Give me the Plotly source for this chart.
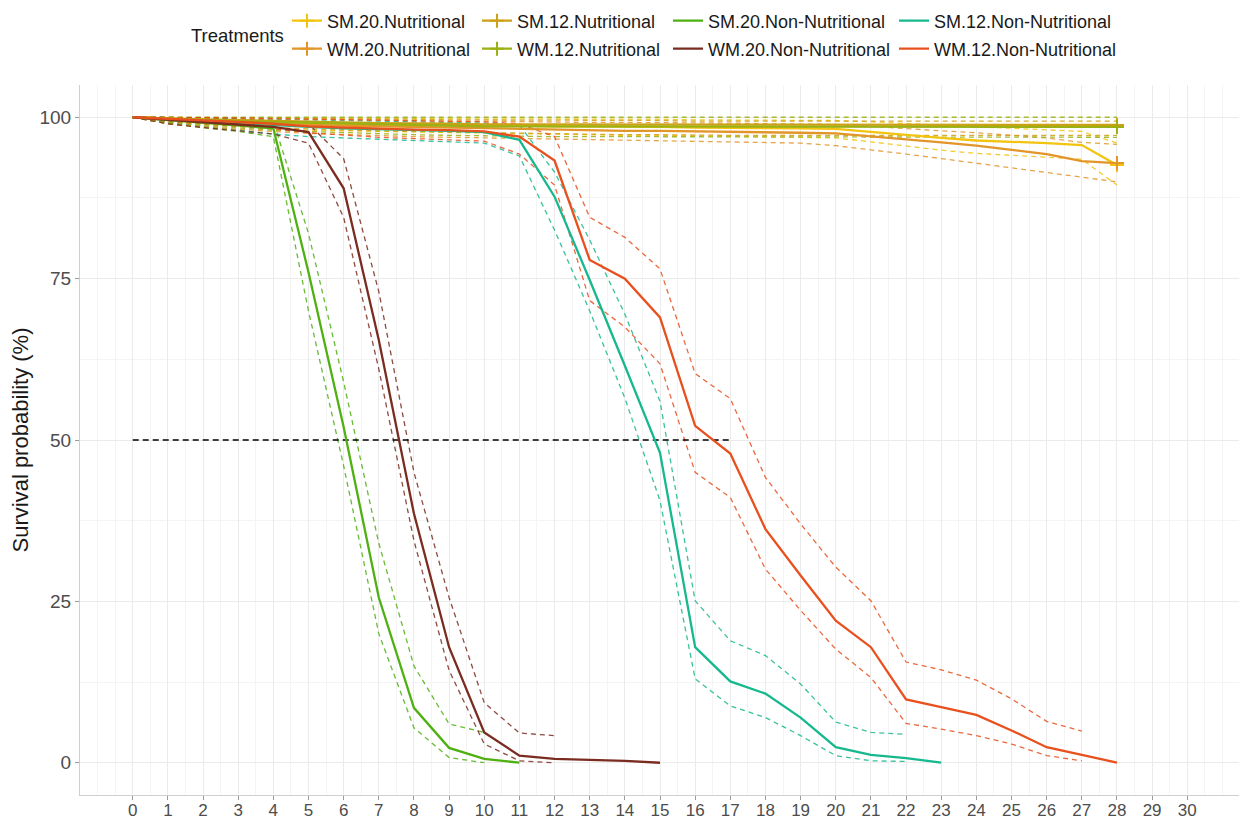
import plotly.graph_objects as go

# ---------------- data ----------------
NAMES = ["SM.20.Nutritional", "SM.12.Nutritional", "SM.20.Non-Nutritional", "SM.12.Non-Nutritional",
         "WM.20.Nutritional", "WM.12.Nutritional", "WM.20.Non-Nutritional", "WM.12.Non-Nutritional"]

DAYS_28 = list(range(0, 29))

SM20N = [100, 99.8, 99.6, 99.4, 99.2, 99.1, 99.0, 98.9, 98.8, 98.8, 98.7, 98.7, 98.6, 98.6, 98.5,
         98.5, 98.4, 98.4, 98.3, 98.3, 98.2, 97.8, 97.3, 96.8, 96.4, 96.2, 96.0, 95.7, 92.6]
SM20N_UP = [100, 100, 100, 100, 99.9, 99.9, 99.9, 99.8, 99.8, 99.8, 99.8, 99.8, 99.7, 99.7, 99.7,
            99.7, 99.6, 99.6, 99.6, 99.6, 99.5, 99.3, 99.0, 98.7, 98.5, 98.3, 98.1, 97.8, 96.0]
SM20N_LO = [100, 99.3, 98.9, 98.5, 98.2, 98.0, 97.9, 97.8, 97.7, 97.6, 97.5, 97.4, 97.3, 97.3, 97.2,
            97.2, 97.1, 97.0, 97.0, 96.9, 96.8, 96.2, 95.5, 94.9, 94.4, 94.1, 93.8, 93.5, 89.5]

SM12N = [100, 99.8, 99.6, 99.5, 99.4, 99.3, 99.2, 99.1, 99.0, 99.0, 98.9, 98.9, 98.8, 98.8, 98.8,
         98.8, 98.8, 98.8, 98.8, 98.8, 98.8, 98.8, 98.8, 98.8, 98.8, 98.8, 98.8, 98.8, 98.8]
SM12N_UP = [100, 100, 100, 99.9, 99.9, 99.8, 99.8, 99.7, 99.7, 99.6, 99.6, 99.5, 99.5, 99.5, 99.5,
            99.5, 99.4, 99.4, 99.4, 99.4, 99.4, 99.4, 99.4, 99.4, 99.4, 99.4, 99.4, 99.4, 99.4]
SM12N_LO = [100, 99.3, 98.9, 98.6, 98.4, 98.2, 98.0, 97.9, 97.8, 97.7, 97.6, 97.5, 97.4, 97.3, 97.3,
            97.3, 97.2, 97.2, 97.2, 97.2, 97.2, 97.2, 97.2, 97.2, 97.2, 97.2, 97.2, 97.2, 97.2]

WM20N = [100, 99.7, 99.4, 99.2, 99.0, 98.8, 98.6, 98.5, 98.4, 98.3, 98.2, 98.1, 98.0, 98.0, 97.9,
         97.9, 97.8, 97.8, 97.7, 97.6, 97.5, 97.1, 96.6, 96.1, 95.6, 95.0, 94.3, 93.2, 92.9]
WM20N_UP = [100, 100, 100, 99.9, 99.8, 99.7, 99.6, 99.5, 99.5, 99.4, 99.4, 99.3, 99.3, 99.2, 99.2,
            99.2, 99.1, 99.1, 99.0, 99.0, 98.9, 98.6, 98.2, 97.9, 97.6, 97.2, 96.8, 96.1, 95.8]
WM20N_LO = [100, 99.0, 98.5, 98.1, 97.8, 97.5, 97.3, 97.1, 97.0, 96.9, 96.8, 96.7, 96.6, 96.5, 96.5,
            96.4, 96.3, 96.2, 96.1, 96.0, 95.6, 95.0, 94.3, 93.6, 92.9, 92.2, 91.5, 90.7, 90.0]

WM12N = [100, 99.8, 99.6, 99.4, 99.2, 99.1, 99.0, 98.9, 98.8, 98.7, 98.6, 98.5, 98.5, 98.5, 98.5,
         98.5, 98.5, 98.5, 98.5, 98.5, 98.5, 98.5, 98.5, 98.5, 98.5, 98.5, 98.5, 98.5, 98.5]
WM12N_UP = [100] * 29
WM12N_LO = [100, 99.2, 98.7, 98.3, 98.0, 97.8, 97.6, 97.4, 97.3, 97.2, 97.1, 97.0, 97.0, 97.0, 97.0,
            96.9, 96.9, 96.9, 96.9, 96.9, 96.9, 96.9, 96.9, 96.9, 96.9, 96.9, 96.9, 96.9, 96.9]

SM20NN_DAYS = list(range(0, 12))
SM20NN = [100, 99.6, 99.2, 98.8, 98.3, 76.0, 52.0, 25.6, 8.5, 2.3, 0.6, 0.0]
SM20NN_CI_DAYS = list(range(0, 11))
SM20NN_UP = [100, 100, 99.8, 99.6, 99.4, 82.0, 59.0, 34.0, 15.0, 6.0, 4.7]
SM20NN_LO = [100, 99.0, 98.4, 97.8, 97.0, 70.0, 46.0, 20.0, 5.4, 0.8, 0.0]

WM20NN_DAYS = list(range(0, 16))
WM20NN = [100, 99.6, 99.2, 98.9, 98.5, 97.7, 89.0, 65.5, 38.6, 17.9, 4.7, 1.1, 0.6, 0.45, 0.3, 0.0]
WM20NN_CI_DAYS = list(range(0, 13))
WM20NN_UP = [100, 100, 99.9, 99.7, 99.5, 99.0, 93.6, 73.0, 45.0, 25.6, 9.3, 4.6, 4.2]
WM20NN_LO = [100, 99.0, 98.4, 97.9, 97.4, 96.0, 84.5, 61.0, 34.4, 14.3, 2.9, 0.3, 0.0]

SM12NN_DAYS = list(range(0, 24))
SM12NN = [100, 99.7, 99.4, 99.1, 98.7, 98.5, 98.3, 98.2, 98.0, 97.9, 97.7, 96.5, 87.7, 74.8, 61.5,
          48.0, 17.9, 12.6, 10.7, 7.0, 2.4, 1.2, 0.7, 0.0]
SM12NN_CI_DAYS = list(range(0, 23))
SM12NN_UP = [100, 100, 99.9, 99.8, 99.7, 99.6, 99.5, 99.4, 99.3, 99.2, 99.1, 98.8, 91.5, 81.0, 69.5,
             56.0, 25.1, 18.9, 16.6, 12.2, 6.3, 4.7, 4.4]
SM12NN_LO = [100, 99.2, 98.6, 98.0, 97.4, 97.0, 96.8, 96.6, 96.4, 96.2, 96.0, 94.0, 82.5, 70.0, 56.5,
             40.6, 13.0, 8.8, 7.0, 4.2, 1.1, 0.3, 0.2]

WM12NN = [100, 99.8, 99.5, 99.3, 99.0, 98.6, 98.4, 98.2, 98.1, 98.0, 97.8, 97.0, 93.3, 77.9, 75.0,
          69.0, 52.2, 47.9, 36.2, 29.0, 22.0, 17.9, 9.8, 8.6, 7.4, 5.0, 2.4, 1.2, 0.0]
WM12NN_CI_DAYS = list(range(0, 28))
WM12NN_UP = [100, 100, 100, 99.9, 99.8, 99.7, 99.6, 99.5, 99.5, 99.4, 99.3, 99.0, 97.0, 84.5, 81.4,
             76.5, 60.3, 56.4, 44.2, 37.0, 30.3, 25.1, 15.6, 14.4, 12.8, 9.9, 6.4, 4.9]
WM12NN_LO = [100, 99.4, 99.0, 98.6, 98.2, 97.6, 97.2, 96.9, 96.7, 96.5, 96.3, 94.3, 89.5, 71.6, 67.5,
             61.8, 45.0, 41.1, 30.0, 23.6, 17.6, 13.2, 6.1, 5.2, 4.2, 2.9, 1.1, 0.3]

MEDIAN_X = [0, 17]
MEDIAN_Y = [50, 50]

X_TICKS = list(range(0, 31))
Y_TICKS = [0, 25, 50, 75, 100]

# ---------------- styling ----------------
COLORS = {
    "SM.20.Nutritional": "#F2C40F",
    "SM.12.Nutritional": "#CDA015",
    "SM.20.Non-Nutritional": "#4FB012",
    "SM.12.Non-Nutritional": "#16B88E",
    "WM.20.Nutritional": "#E2962A",
    "WM.12.Nutritional": "#9BB012",
    "WM.20.Non-Nutritional": "#7A2C20",
    "WM.12.Non-Nutritional": "#E8501E",
}

SERIES = {
    "SM.20.Nutritional": (DAYS_28, SM20N, DAYS_28, SM20N_UP, SM20N_LO, True),
    "SM.12.Nutritional": (DAYS_28, SM12N, DAYS_28, SM12N_UP, SM12N_LO, True),
    "WM.20.Nutritional": (DAYS_28, WM20N, DAYS_28, WM20N_UP, WM20N_LO, True),
    "WM.12.Nutritional": (DAYS_28, WM12N, DAYS_28, WM12N_UP, WM12N_LO, True),
    "SM.20.Non-Nutritional": (SM20NN_DAYS, SM20NN, SM20NN_CI_DAYS, SM20NN_UP, SM20NN_LO, False),
    "WM.20.Non-Nutritional": (WM20NN_DAYS, WM20NN, WM20NN_CI_DAYS, WM20NN_UP, WM20NN_LO, False),
    "SM.12.Non-Nutritional": (SM12NN_DAYS, SM12NN, SM12NN_CI_DAYS, SM12NN_UP, SM12NN_LO, False),
    "WM.12.Non-Nutritional": (DAYS_28, WM12NN, WM12NN_CI_DAYS, WM12NN_UP, WM12NN_LO, False),
}

FONT = "Liberation Sans, Arial, sans-serif"
OFF = 8  # page body margin offset
W, H = 1247 - OFF, 822 - OFF
ML, MR, MT, MB = 80 - OFF, 7, 85 - OFF, 27
PW, PH = W - ML - MR, H - MT - MB

fig = go.Figure()

# confidence bands (dashed)
for name in NAMES:
    days, surv, cdays, up, lo, cens = SERIES[name]
    for band in (up, lo):
        fig.add_trace(go.Scatter(
            x=cdays, y=band, mode="lines", showlegend=False, hoverinfo="skip",
            line=dict(color=COLORS[name], width=1.3, dash="5px,4px"), opacity=0.85))

# median reference line
fig.add_trace(go.Scatter(x=MEDIAN_X, y=MEDIAN_Y, mode="lines", showlegend=False,
                         line=dict(color="black", width=1.6, dash="6px,4px")))

# legend column / row positions (page pixels)
COL_TEXT_X = [328, 518, 709, 935]
ROW_Y = [21, 49]
legend_layouts = {}
order = [("SM.20.Nutritional", 0, 0), ("SM.12.Nutritional", 1, 0), ("SM.20.Non-Nutritional", 2, 0),
         ("SM.12.Non-Nutritional", 3, 0), ("WM.20.Nutritional", 0, 1), ("WM.12.Nutritional", 1, 1),
         ("WM.20.Non-Nutritional", 2, 1), ("WM.12.Non-Nutritional", 3, 1)]

TRANSPARENT = "rgba(0,0,0,0)"
for i, (name, col, row) in enumerate(order):
    lid = "legend" if i == 0 else f"legend{i + 1}"
    days, surv, cdays, up, lo, cens = SERIES[name]
    if cens:
        # reversed so that the censoring mark (last day) is the first point
        xs, ys = days[::-1], surv[::-1]
        mcols = [COLORS[name]] + [TRANSPARENT] * (len(xs) - 1)
        fig.add_trace(go.Scatter(
            x=xs, y=ys, name=name, legend=lid, mode="lines+markers",
            line=dict(color=COLORS[name], width=2.3),
            marker=dict(symbol="cross-thin", size=10, color=mcols,
                        line=dict(color=mcols, width=2)),
        ))
    else:
        fig.add_trace(go.Scatter(
            x=days, y=surv, name=name, legend=lid, mode="lines",
            line=dict(color=COLORS[name], width=2.3),
        ))
    legend_layouts[lid] = dict(
        x=(COL_TEXT_X[col] - OFF - 41 - ML) / PW, xanchor="left",
        y=(H - MB - (ROW_Y[row] - OFF)) / PH, yanchor="middle",
        font=dict(family=FONT, size=18, color="#1a1a1a"),
        bgcolor="rgba(0,0,0,0)", itemwidth=30,
        orientation="v", tracegroupgap=0,
    )

fig.update_layout(
    width=W, height=H,
    margin=dict(l=ML, r=MR, t=MT, b=MB, autoexpand=False),
    paper_bgcolor="white", plot_bgcolor="white",
    font=dict(family=FONT),
    showlegend=True,
    xaxis=dict(
        range=[-1.5, 31.5], tickmode="array", tickvals=X_TICKS, ticktext=[str(t) for t in X_TICKS],
        showgrid=True, gridcolor="#EBEBEB", gridwidth=1,
        minor=dict(dtick=0.5, showgrid=True, gridcolor="#F4F4F4", gridwidth=0.7),
        showline=True, linecolor="#CFCFCF", linewidth=1,
        ticks="outside", ticklen=4, tickcolor="#9A9A9A", tickwidth=1,
        ticklabelstandoff=-4,
        tickfont=dict(family=FONT, size=17, color="#4D4D4D"),
        zeroline=False, fixedrange=True,
    ),
    yaxis=dict(
        range=[-5, 105], tickmode="array", tickvals=Y_TICKS, ticktext=[str(t) for t in Y_TICKS],
        showgrid=True, gridcolor="#EBEBEB", gridwidth=1,
        minor=dict(tickmode="array", tickvals=[12.5, 37.5, 62.5, 87.5], showgrid=True,
                   gridcolor="#F4F4F4", gridwidth=0.7),
        showline=True, linecolor="#CFCFCF", linewidth=1,
        ticks="outside", ticklen=4, tickcolor="#9A9A9A", tickwidth=1,
        tickfont=dict(family=FONT, size=19, color="#4D4D4D"),
        title=dict(text="Survival probability (%)", font=dict(family=FONT, size=22, color="#1a1a1a"),
                   standoff=6),
        zeroline=False, fixedrange=True,
    ),
    annotations=[dict(text="Treatments", x=(189 - OFF - ML) / PW, xanchor="left", xref="paper",
                      y=(H - MB - (35 - OFF)) / PH, yref="paper", yanchor="middle", showarrow=False,
                      font=dict(family=FONT, size=18.5, color="#1a1a1a"))],
    **legend_layouts,
)

fig.write_html("out.html")
